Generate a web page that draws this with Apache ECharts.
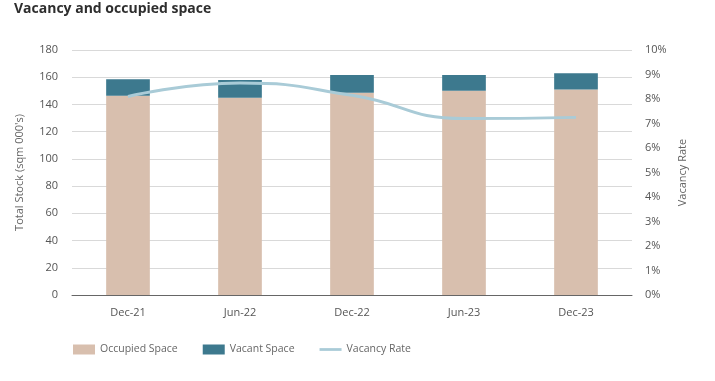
<!DOCTYPE html>
<html><head><meta charset="utf-8">
<script src="https://cdn.jsdelivr.net/npm/echarts@6/dist/echarts.min.js"></script>
<style>html,body{margin:0;padding:0;background:#fff}#c{width:715px;height:381px}</style>
</head><body><div id="c"></div>
<script>
const categories = ['Dec-21','Jun-22','Dec-22','Jun-23','Dec-23'];
const occupied = [146.4, 145, 148.6, 150, 151];
const vacant = [12.1, 13, 13.1, 11.7, 12];
const vacancyRate = [8.1, 8.65, 8.15, 7.2, 7.25];
const leftTicks = {min:0, max:180, interval:20};
const rightTicks = {min:0, max:10, interval:1};

const chart = echarts.init(document.getElementById('c'));
const font = 'Open Sans';
chart.setOption({
  animation:false,
  textStyle:{fontFamily:font},
  title:{text:'Vacancy and occupied space', left:9, top:-3,
    textStyle:{fontFamily:font, fontSize:14, fontWeight:'bold', color:'#2e2e2e'}},
  grid:{left:72, right:83, top:50, bottom:86},
  legend:{left:68, top:339, itemWidth:22, itemHeight:10, itemGap:25,
    textStyle:{fontSize:10.5, color:'#666'},
    data:[{name:'Occupied Space', icon:'rect'},{name:'Vacant Space', icon:'rect'},
          {name:'Vacancy Rate', icon:'path://M0,0 L24,0 L24,3 L0,3 Z'}]},
  xAxis:{type:'category', data:categories,
    axisLine:{lineStyle:{color:'#666'}}, axisTick:{show:false},
    axisLabel:{color:'#555', fontSize:11, margin:12}},
  yAxis:[
    {type:'value', min:leftTicks.min, max:leftTicks.max, interval:leftTicks.interval,
     name:"Total Stock (sqm 000's)", nameLocation:'middle', nameGap:47, nameRotate:90,
     nameTextStyle:{color:'#666', fontSize:11},
     axisLabel:{color:'#555', fontSize:11, margin:14},
     splitLine:{lineStyle:{color:'#d9d9d9'}}, axisLine:{show:false}, axisTick:{show:false}},
    {type:'value', min:rightTicks.min, max:rightTicks.max, interval:rightTicks.interval,
     name:'Vacancy Rate', nameLocation:'middle', nameGap:44, nameRotate:90,
     nameTextStyle:{color:'#666', fontSize:11},
     axisLabel:{color:'#555', fontSize:11, margin:13, formatter:'{value}%'},
     splitLine:{show:false}, axisLine:{show:false}, axisTick:{show:false}}
  ],
  series:[
    {name:'Occupied Space', type:'bar', stack:'s', data:occupied, barWidth:'39%',
     itemStyle:{color:'#d8bfae'}},
    {name:'Vacant Space', type:'bar', stack:'s', data:vacant,
     itemStyle:{color:'#3d798e'}},
    {name:'Vacancy Rate', type:'line', yAxisIndex:1, data:vacancyRate, smooth:true,
     symbol:'none', lineStyle:{color:'#a9cbd7', width:3}, itemStyle:{color:'#a9cbd7'}}
  ]
});
</script></body></html>
